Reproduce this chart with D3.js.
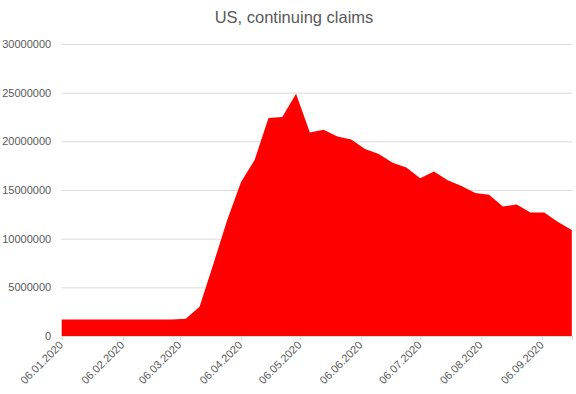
<!DOCTYPE html>
<html>
<head>
<meta charset="utf-8">
<script src="https://cdn.jsdelivr.net/npm/d3@7"></script>
<style>
html,body{margin:0;padding:0;background:#fff;}
svg{display:block;font-family:"Liberation Sans",Arial,sans-serif;}
</style>
</head>
<body>
<svg id="chart" width="576" height="394"></svg>
<script>
const title = "US, continuing claims";
const startDate = "06.01.2020";
const weeks = 38;
const claims = [1700000,1700000,1700000,1700000,1700000,1700000,1700000,1700000,1700000,1780000,
  3000000,7400000,11900000,15800000,18100000,22400000,22500000,24900000,20900000,21200000,
  20500000,20200000,19200000,18700000,17800000,17300000,16200000,16900000,16000000,15400000,
  14700000,14500000,13300000,13500000,12700000,12700000,11700000,10900000];
const xTickLabels = ["06.01.2020","06.02.2020","06.03.2020","06.04.2020","06.05.2020","06.06.2020","06.07.2020","06.08.2020","06.09.2020"];
const yTicks = [0,5000000,10000000,15000000,20000000,25000000,30000000];

(function(){
const parse = d3.timeParse("%d.%m.%Y");
const fmt = d3.timeFormat("%d.%m.%Y");
const start = parse(startDate);
const dates = d3.range(weeks).map(i => d3.timeDay.offset(start, 7*i));
const data = dates.map((d,i) => ({date:d, value:claims[i]}));

const svg = d3.select("#chart");
const mLeft = 61.7, mRight = 571.8, mTop = 44, mBottom = 336;

const x = d3.scaleTime().domain([dates[0], dates[dates.length-1]]).range([mLeft, mRight]);
const y = d3.scaleLinear().domain([0, 30000000]).range([mBottom, mTop]);

const yAxis = d3.axisLeft(y).tickValues(yTicks).tickSize(-(mRight-mLeft)).tickFormat(d3.format("d")).tickPadding(10);
const gy = svg.append("g").attr("transform", `translate(${mLeft},0)`).call(yAxis);
gy.select(".domain").remove();
gy.selectAll(".tick line").attr("stroke", "#d9d9d9").attr("stroke-width", 1);
gy.selectAll(".tick text").attr("fill", "#595959").style("font-size", "11px").attr("x", -10.5);

const area = d3.area().x(d => x(d.date)).y0(y(0)).y1(d => y(d.value)).curve(d3.curveLinear);
svg.append("path").datum(data).attr("d", area).attr("fill", "#ff0000");

const xAxis = d3.axisBottom(x).tickValues(xTickLabels.map(parse).concat([dates[dates.length-1]])).tickSize(4).tickFormat(d => {
  const s = fmt(d); return xTickLabels.includes(s) ? s : "";
});
const gx = svg.append("g").attr("transform", `translate(0,${mBottom})`).call(xAxis);
gx.select(".domain").attr("stroke", "#d9d9d9");
gx.selectAll(".tick line").attr("stroke", "#d9d9d9");
gx.selectAll(".tick text")
  .attr("fill", "#595959").style("font-size", "11px")
  .attr("text-anchor", "end")
  .attr("transform", "translate(-1,7) rotate(-45)")
  .attr("dy", "0.35em").attr("y", 0).attr("x", 0);

svg.append("text").attr("x", 294).attr("y", 23).attr("text-anchor", "middle")
  .attr("fill", "#595959").style("font-size", "16.5px").text(title);
})();
</script>
</body>
</html>
